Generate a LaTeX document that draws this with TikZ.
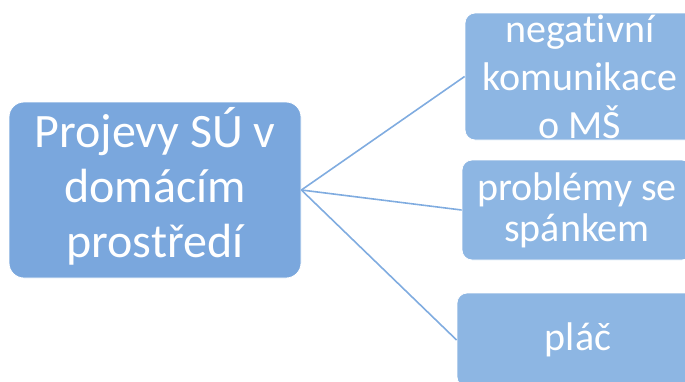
\documentclass[tikz,border=0pt]{standalone}
\usepackage{fontspec}
\setmainfont{Carlito}[Ligatures=NoCommon]
\definecolor{mainblue}{RGB}{122,167,221}
\definecolor{subblue}{RGB}{141,182,227}
\definecolor{linkblue}{RGB}{128,172,224}
\begin{document}
\begin{tikzpicture}[x=1pt,y=-1pt,
  mainbox/.style={fill=mainblue, draw=white, line width=0.8pt, rounded corners=15pt,
    text=white, align=center, inner sep=0pt},
  subbox/.style={fill=subblue, draw=white, line width=0.8pt, rounded corners=10pt,
    text=white, align=center, inner sep=0pt},
  link/.style={draw=linkblue, line width=1.6pt}]
\useasboundingbox (0,0) rectangle (685,381);
\clip (0,0) rectangle (685,381);

% central topic
\node[mainbox, minimum width=292pt, minimum height=176pt,
  font=\fontsize{48}{55}\selectfont, text depth=16pt] (root) at (155,190)
  {Projevy SÚ v\\domácím\\prostředí};

% branches
\node[subbox, minimum width=230pt, minimum height=127pt,
  font=\fontsize{40}{48}\selectfont] (neg) at (580,76.5)
  {negativní\\komunikace\\o MŠ};
\node[subbox, minimum width=230pt, minimum height=100pt,
  font=\fontsize{40}{41}\selectfont] (sleep) at (577,210)
  {problémy se\\spánkem};
\node[subbox, minimum width=242pt, minimum height=94pt,
  font=\fontsize{40}{48}\selectfont] (cry) at (578,340)
  {pláč};

% connectors
\draw[link] (root.east) -- (neg.west);
\draw[link] (root.east) -- (sleep.west);
\draw[link] (root.east) -- (cry.west);
\end{tikzpicture}
\end{document}
